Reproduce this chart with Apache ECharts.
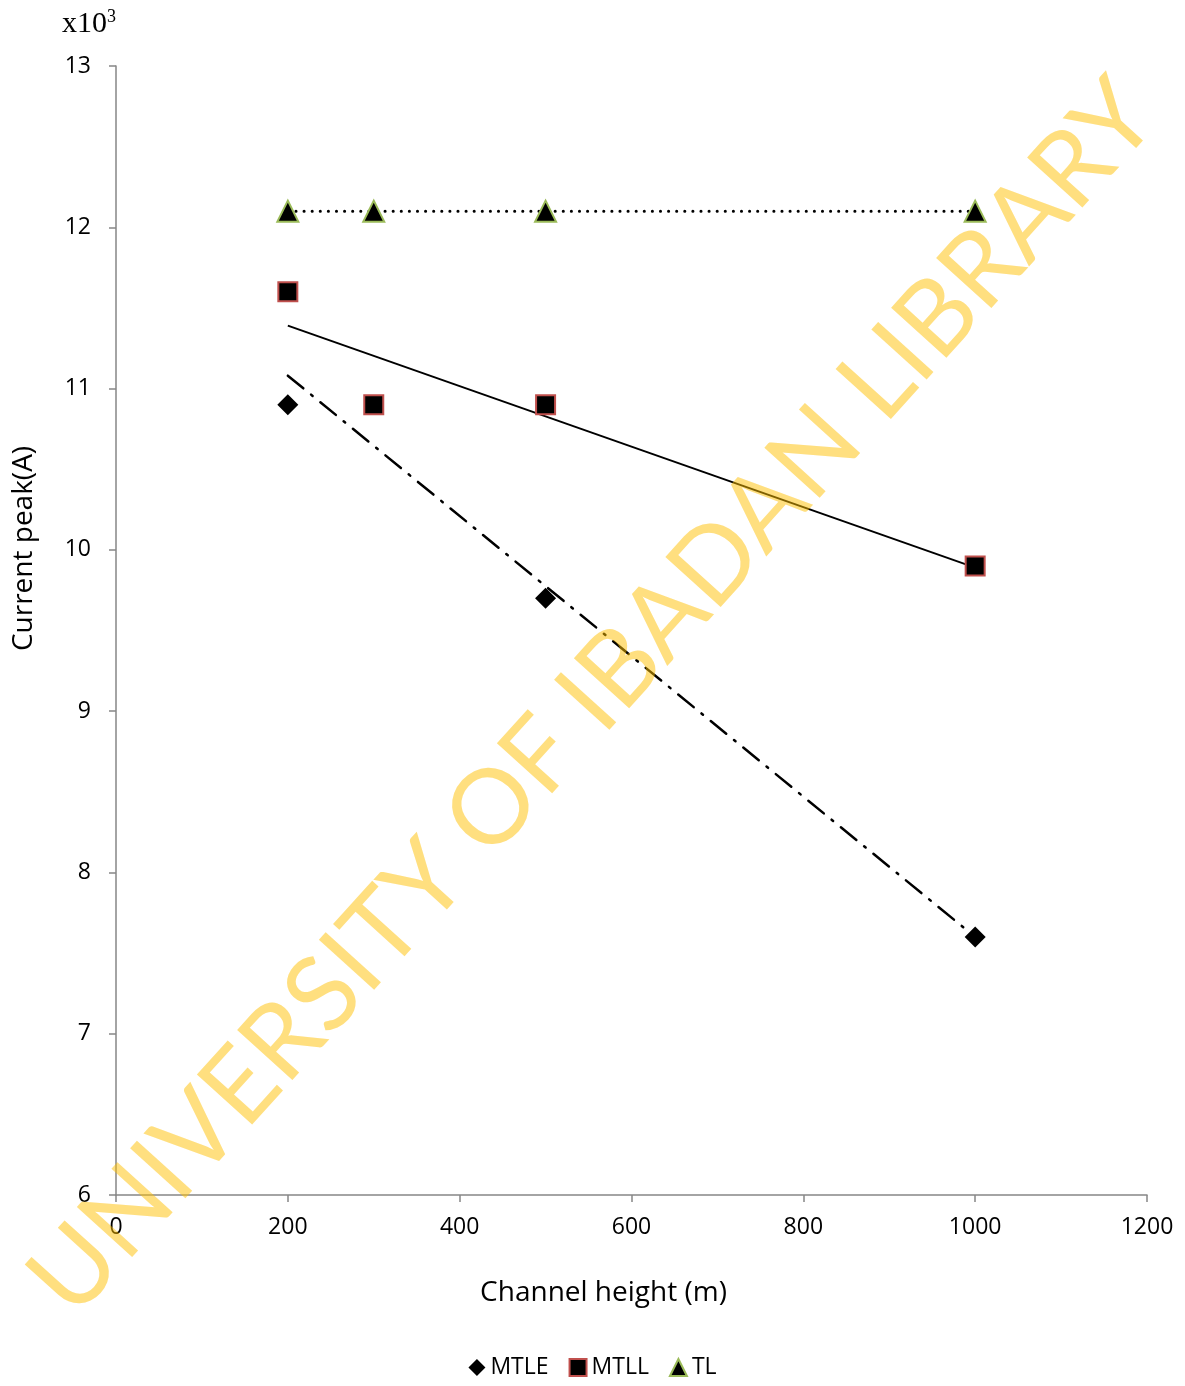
<!DOCTYPE html>
<html>
<head>
<meta charset="utf-8">
<script src="https://cdn.jsdelivr.net/npm/echarts@6/dist/echarts.min.js"></script>
<style>html,body{margin:0;padding:0;background:#fff}#c{width:1185px;height:1386px}</style>
</head>
<body>
<div id="c"></div>
<script>
const heights = [200, 300, 500, 1000];
const mtle = [10.9, null, 9.7, 7.6];
const mtll = [11.6, 10.9, 10.9, 9.9];
const tl = [12.1, 12.1, 12.1, 12.1];
const trendX = [200, 1000];
const mtleTrend = [11.08, 7.60];
const mtllTrend = [11.39, 9.89];
const tlTrend = [12.1, 12.1];
const xTicks = [0, 200, 400, 600, 800, 1000, 1200];
const yTicks = [6, 7, 8, 9, 10, 11, 12, 13];

const pts = (xs, ys) => xs.map((x, i) => [x, ys[i]]).filter(p => p[1] !== null);
const font = '"Open Sans", Lato, sans-serif';
const axisCol = '#868686';

const chart = echarts.init(document.getElementById('c'), null, {renderer: 'canvas'});
chart.setOption({
  animation: false,
  backgroundColor: '#fff',
  grid: {left: 116, right: 38, top: 66, bottom: 191, containLabel: false},
  xAxis: {
    type: 'value', min: xTicks[0], max: xTicks[xTicks.length - 1], interval: 200,
    name: 'Channel height (m)', nameLocation: 'middle', nameGap: 84,
    nameTextStyle: {fontFamily: font, fontSize: 28, color: '#000', padding: [0, 56, 0, 0]},
    axisLine: {lineStyle: {color: axisCol, width: 1.5}},
    axisTick: {show: true, length: 7, lineStyle: {color: axisCol, width: 1.5}},
    axisLabel: {fontFamily: font, fontSize: 23, color: '#000', margin: 21, formatter: v => String(v)},
    splitLine: {show: false}
  },
  yAxis: {
    type: 'value', min: yTicks[0], max: yTicks[yTicks.length - 1], interval: 1,
    name: 'Current peak(A)', nameLocation: 'middle', nameGap: 78, nameRotate: 90,
    nameTextStyle: {fontFamily: font, fontSize: 28, color: '#000', padding: [0, 0, 0, 164]},
    axisLine: {show: true, lineStyle: {color: axisCol, width: 1.5}},
    axisTick: {show: true, length: 7, lineStyle: {color: axisCol, width: 1.5}},
    axisLabel: {fontFamily: font, fontSize: 23, color: '#000', margin: 25, formatter: v => String(v)},
    splitLine: {show: false}
  },
  legend: {
    bottom: 2, left: 'center', itemGap: 20, itemWidth: 17, itemHeight: 17,
    data: [{name: 'MTLE', icon: 'diamond'}, {name: 'MTLL', icon: 'rect'}, {name: 'TL', icon: 'triangle'}],
    textStyle: {fontFamily: font, fontSize: 23, color: '#000', padding: [0, 0, 0, 0]}
  },
  graphic: [
    {type: 'text', left: 62, top: 8,
      style: {text: 'x10{s|3}', font: '30px "Liberation Serif", serif', fill: '#000',
        rich: {s: {fontSize: 18, fontFamily: '"Liberation Serif", serif', verticalAlign: 'top', padding: [0, 0, 14, 0]}}}},
    {type: 'text', x: 593, y: 698, rotation: 0.835, z: 100, silent: true,
      style: {text: 'UNIVERSITY OF IBADAN LIBRARY', font: '104px Lato, "DejaVu Sans", sans-serif',
        fill: 'rgba(255,192,0,0.5)', align: 'center', verticalAlign: 'middle'}}
  ],
  series: [
    {name: 'MTLE trend', type: 'line', data: pts(trendX, mtleTrend), symbol: 'none', z: 1,
      lineStyle: {color: '#000', width: 2.5, type: [20, 10, 2, 10], cap: 'round'}},
    {name: 'MTLL trend', type: 'line', data: pts(trendX, mtllTrend), symbol: 'none', z: 1,
      lineStyle: {color: '#000', width: 2}},
    {name: 'TL trend', type: 'line', data: pts(trendX, tlTrend), symbol: 'none', z: 1,
      lineStyle: {color: '#000', width: 3, type: [0.1, 8], cap: 'round'}},
    {name: 'MTLE', type: 'scatter', data: pts(heights, mtle), symbol: 'diamond', symbolSize: 21, z: 3,
      itemStyle: {color: '#000', opacity: 1}},
    {name: 'MTLL', type: 'scatter', data: pts(heights, mtll), symbol: 'rect', symbolSize: 19, z: 3,
      itemStyle: {color: '#000', borderColor: '#C0504D', borderWidth: 2, opacity: 1}},
    {name: 'TL', type: 'scatter', data: pts(heights, tl), symbol: 'triangle', symbolSize: 21, z: 3,
      itemStyle: {color: '#000', borderColor: '#9BBB59', borderWidth: 2, opacity: 1}}
  ]
});
</script>
</body>
</html>
